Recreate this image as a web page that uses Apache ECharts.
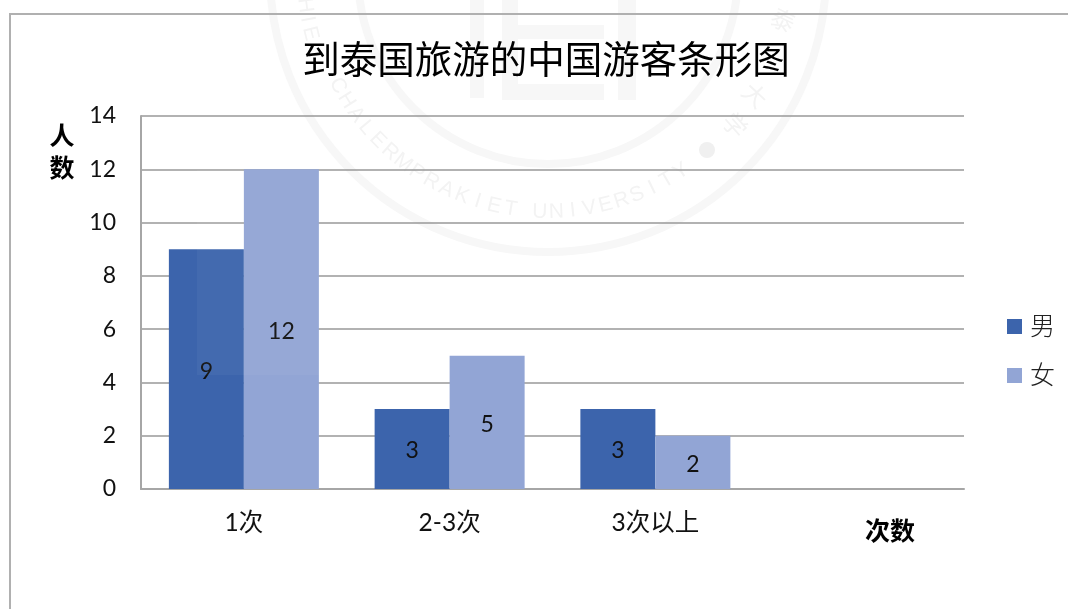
<!DOCTYPE html>
<html>
<head>
<meta charset="utf-8">
<style>html,body{margin:0;padding:0;background:#fff}#c{width:1068px;height:609px}</style>
<script src="https://cdn.jsdelivr.net/npm/echarts@6/dist/echarts.min.js"></script>
</head>
<body>
<div id="c"></div>
<script>
const categories = ['1次', '2-3次', '3次以上', ''];
const male = [9, 3, 3, null];
const female = [12, 5, 2, null];
const titleText = '到泰国旅游的中国游客条形图';
const FONT = 'Lato, "Noto Sans CJK SC", sans-serif';
const WM = '#f7f7f7', WMT = '#f3f3f3';

const chart = echarts.init(document.getElementById('c'));

// faint watermark seal behind the chart
const cx = 548, cy = -26;
const wm = [];
wm.push({type:'circle', z:0, silent:true, shape:{cx, cy, r:278}, style:{fill:'none', stroke:WM, lineWidth:8}});
wm.push({type:'circle', z:0, silent:true, shape:{cx, cy, r:190}, style:{fill:'none', stroke:WM, lineWidth:8}});
wm.push({type:'circle', z:0, silent:true, shape:{cx:707, cy:150, r:8}, style:{fill:'#f0f0f0'}});
[[470,0,14,98],[502,0,16,100],[518,84,86,16],[518,25,86,14],[618,0,18,100]].forEach(r => {
  wm.push({type:'rect', z:0, silent:true, shape:{x:r[0], y:r[1], width:r[2], height:r[3]}, style:{fill:WM}});
});
function arcText(str, a0, a1, r) {
  [...str].forEach((ch, i) => {
    const a = (a0 + (a1 - a0) * i / (str.length - 1)) * Math.PI / 180;
    wm.push({type:'text', z:0, silent:true,
      x: cx + r * Math.cos(a), y: cy + r * Math.sin(a),
      rotation: Math.PI / 2 - a,
      style:{text:ch, fill:WMT, font:'21px "Liberation Sans", sans-serif', align:'center', verticalAlign:'middle'}});
  });
}
arcText('CHIE', 176, 166, 245);
arcText('CHALERMPRAKIET', 152, 99, 238);
arcText('UNIVERSITY', 92, 56, 238);
[['泰',783,20,-0.45],['大',755,95,-0.75],['学',735,125,-0.85]].forEach(t => {
  wm.push({type:'text', z:0, silent:true, x:t[1], y:t[2], rotation:t[3],
    style:{text:t[0], fill:WMT, font:'24px "Noto Sans CJK SC"', align:'center', verticalAlign:'middle'}});
});

chart.setOption({
  animation: false,
  backgroundColor: '#fff',
  title: {
    text: titleText, left: 541, top: 35, textAlign: 'center',
    textStyle: {fontFamily: '"Noto Sans CJK SC"', fontSize: 37.5, fontWeight: 'normal', color: '#000'}
  },
  legend: {
    orient: 'vertical', left: 1002, top: 309, icon: 'rect',
    itemWidth: 15, itemHeight: 15, itemGap: 24,
    selectedMode: false,
    textStyle: {fontFamily: FONT, fontSize: 25, color: '#222', padding: [0,0,0,3], fontWeight: 300}
  },
  grid: {left: 141, right: 104, top: 116, bottom: 120},
  xAxis: {
    type: 'category', data: categories,
    name: '次数', nameLocation: 'end', nameGap: -74, nameMoveOverlap: false,
    nameTextStyle: {fontFamily: '"Noto Sans CJK SC"', fontSize: 25, fontWeight: 'bold', color: '#000', align: 'center', verticalAlign: 'top', padding: [29,0,0,0]},
    axisLine: {lineStyle: {color: '#a6a6a6', width: 2}},
    axisTick: {show: false},
    axisLabel: {fontFamily: FONT, fontSize: 24.5, color: '#111', margin: 22}
  },
  yAxis: {
    type: 'value', min: 0, max: 14, interval: 2,
    name: '人\n数', nameLocation: 'end', nameGap: -35, nameMoveOverlap: false,
    nameTextStyle: {fontFamily: '"Noto Sans CJK SC"', fontSize: 25, fontWeight: 'bold', color: '#000', align: 'center', verticalAlign: 'middle', lineHeight: 32, padding: [0,158,0,0]},
    axisLine: {show: true, lineStyle: {color: '#a6a6a6', width: 2}},
    axisTick: {show: false},
    axisLabel: {fontFamily: FONT, fontSize: 23, color: '#111', margin: 25, padding: [2,0,0,0]},
    splitLine: {lineStyle: {color: '#999', width: 1.5}}
  },
  series: [
    {name: '男', type: 'bar', data: male, barWidth: 75, barGap: 0, z: 2,
     itemStyle: {color: '#3c64ac'},
     label: {show: true, position: 'inside', offset: [0,2], fontFamily: FONT, fontSize: 23, color: '#111'}},
    {name: '女', type: 'bar', data: female, barWidth: 75, z: 2,
     itemStyle: {color: '#92a5d5'},
     label: {show: true, position: 'inside', offset: [0,2], fontFamily: FONT, fontSize: 23, color: '#111'}}
  ],
  graphic: {elements: wm.concat([
    {type:'polyline', z:50, silent:true, shape:{points:[[10,609],[10,14],[1068,14]]}, style:{fill:'none', stroke:'#b0b0b0', lineWidth:2}},
    {type:'rect', z:50, silent:true, shape:{x:197, y:170, width:122, height:205}, style:{fill:'#fff', opacity:0.04}}
  ])}
});
</script>
</body>
</html>
